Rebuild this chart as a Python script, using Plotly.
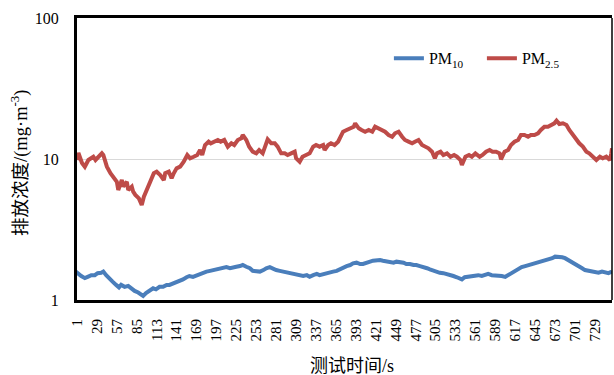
import plotly.graph_objects as go

# Emission concentration over the test, sampled values (mg·m-3)
t_pm10 = [1, 2, 7, 12, 16, 21, 26, 30, 35, 38, 42, 47, 51, 56, 60, 63, 68, 73, 77, 82,
          87, 91, 94, 98, 103, 108, 112, 117, 122, 127, 131, 136, 141, 145, 150, 155, 159, 164, 169, 173,
          178, 183, 188, 192, 197, 202, 206, 211, 216, 220, 225, 230, 234, 239, 244, 248, 253, 258, 263, 267,
          272, 277, 281, 286, 291, 296, 300, 305, 310, 314, 319, 324, 328, 333, 338, 342, 347, 352, 356, 361,
          366, 370, 375, 380, 385, 389, 394, 399, 403, 408, 413, 417, 422, 427, 431, 436, 441, 446, 450, 455,
          460, 464, 469, 474, 478, 483, 488, 493, 497, 502, 507, 511, 516, 521, 525, 530, 535, 539, 542, 546,
          551, 556, 561, 565, 570, 575, 579, 584, 589, 593, 598, 603, 607, 612, 617, 622, 626, 631, 636, 640,
          645, 650, 654, 659, 664, 669, 673, 678, 683, 687, 692, 697, 701, 706, 711, 715, 720, 725, 730, 734,
          739, 744, 748, 753]
pm10 = [1.50, 1.55, 1.48, 1.43, 1.46, 1.50, 1.50, 1.55, 1.56, 1.59, 1.50, 1.43, 1.35, 1.28, 1.23, 1.28, 1.24, 1.26, 1.21, 1.16,
        1.13, 1.09, 1.07, 1.12, 1.16, 1.21, 1.19, 1.24, 1.24, 1.28, 1.28, 1.31, 1.33, 1.37, 1.40, 1.45, 1.48, 1.46, 1.50, 1.53,
        1.56, 1.59, 1.61, 1.63, 1.65, 1.68, 1.68, 1.71, 1.68, 1.71, 1.72, 1.74, 1.77, 1.72, 1.68, 1.61, 1.59, 1.59, 1.63, 1.68,
        1.71, 1.65, 1.63, 1.61, 1.59, 1.56, 1.55, 1.53, 1.50, 1.48, 1.48, 1.50, 1.46, 1.50, 1.53, 1.50, 1.53, 1.55, 1.56, 1.59,
        1.61, 1.65, 1.71, 1.74, 1.77, 1.82, 1.84, 1.80, 1.80, 1.82, 1.87, 1.90, 1.92, 1.92, 1.90, 1.87, 1.87, 1.84, 1.87, 1.87,
        1.84, 1.80, 1.80, 1.77, 1.77, 1.74, 1.72, 1.68, 1.65, 1.61, 1.59, 1.56, 1.55, 1.53, 1.50, 1.48, 1.45, 1.43, 1.40, 1.45,
        1.46, 1.48, 1.50, 1.50, 1.48, 1.50, 1.53, 1.50, 1.50, 1.48, 1.48, 1.46, 1.50, 1.56, 1.61, 1.65, 1.71, 1.74, 1.77, 1.80,
        1.80, 1.84, 1.87, 1.90, 1.92, 1.98, 2.03, 2.03, 2.01, 1.98, 1.92, 1.84, 1.80, 1.74, 1.68, 1.63, 1.61, 1.59, 1.59, 1.56,
        1.59, 1.56, 1.55, 1.59]

t_pm25 = [1, 3, 8, 12, 17, 22, 24, 27, 31, 36, 38, 43, 48, 52, 57, 59, 64, 66, 71, 73,
          78, 80, 83, 88, 92, 95, 99, 104, 109, 113, 118, 123, 125, 130, 134, 137, 141, 146, 151, 156,
          160, 165, 170, 174, 177, 181, 186, 189, 194, 199, 203, 208, 213, 218, 222, 227, 232, 234, 239, 243,
          248, 253, 257, 262, 267, 269, 274, 279, 283, 288, 293, 297, 302, 307, 309, 314, 318, 323, 328, 333,
          337, 342, 347, 349, 354, 358, 363, 368, 372, 375, 380, 385, 390, 392, 397, 401, 406, 411, 416, 420,
          425, 430, 434, 439, 444, 448, 453, 458, 462, 467, 472, 476, 481, 486, 491, 495, 500, 504, 507, 512,
          516, 521, 526, 531, 535, 540, 542, 547, 552, 556, 561, 567, 571, 576, 581, 585, 590, 595, 597, 602,
          607, 611, 616, 621, 625, 630, 635, 639, 644, 649, 653, 658, 663, 667, 672, 675, 679, 684, 689, 693,
          698, 703, 707, 712, 717, 721, 726, 731, 736, 740, 745, 750, 752, 753]
pm25 = [9.84, 11.03, 9.37, 8.82, 9.84, 10.33, 10.38, 9.84, 10.38, 10.97, 10.68, 8.82, 7.92, 7.49, 6.90, 6.03, 7.10, 6.36, 6.90, 6.03,
        6.36, 5.86, 5.56, 5.26, 4.72, 5.40, 6.03, 6.90, 7.92, 8.13, 7.70, 7.10, 7.92, 8.13, 7.30, 7.92, 8.59, 8.82, 9.57, 10.68,
        10.11, 10.38, 10.68, 11.58, 10.68, 12.57, 13.27, 12.92, 13.27, 13.64, 13.27, 13.64, 12.23, 12.92, 12.57, 13.64, 14.02, 14.80, 13.64, 12.23,
        11.27, 10.97, 11.58, 10.97, 12.92, 13.80, 12.92, 12.92, 12.23, 10.97, 10.97, 10.68, 10.97, 11.27, 10.11, 9.57, 10.38, 10.68, 10.97, 12.23,
        12.57, 12.23, 12.57, 11.58, 12.57, 12.92, 12.57, 13.27, 14.39, 15.62, 16.06, 16.51, 16.95, 17.91, 16.51, 16.06, 15.62, 16.06, 15.62, 16.95,
        16.51, 16.06, 15.62, 14.80, 14.39, 15.22, 15.62, 14.39, 13.64, 13.27, 12.92, 13.27, 13.64, 12.57, 12.23, 11.91, 11.27, 10.11, 10.97, 11.27,
        10.68, 10.97, 10.38, 10.68, 10.38, 9.84, 9.07, 10.38, 10.68, 10.38, 10.97, 10.38, 10.68, 11.27, 11.58, 11.27, 11.27, 10.97, 9.95, 11.27,
        11.58, 12.57, 13.27, 13.64, 14.80, 14.80, 14.39, 14.80, 14.80, 15.22, 16.06, 16.95, 16.95, 17.42, 17.91, 18.69, 17.71, 17.91, 17.42, 16.06,
        14.80, 13.64, 12.92, 12.23, 11.27, 10.97, 10.38, 9.84, 10.38, 10.11, 10.38, 9.84, 10.97, 11.91]

x_ticks = list(range(1, 730, 28))
y_ticks = [1, 10, 100]

SERIF = "Times New Roman, Liberation Serif, Noto Sans CJK SC, serif"

fig = go.Figure()
fig.add_trace(go.Scatter(x=t_pm10, y=pm10, mode="lines", name="PM<sub>10</sub>",
                         line=dict(color="#4A7EBB", width=4)))
fig.add_trace(go.Scatter(x=t_pm25, y=pm25, mode="lines", name="PM<sub>2.5</sub>",
                         line=dict(color="#BE4B48", width=4)))

fig.update_layout(
    width=614, height=375,
    margin=dict(l=77, r=2, t=18, b=75),
    paper_bgcolor="white", plot_bgcolor="white",
    font=dict(family=SERIF, size=15, color="black"),
    showlegend=True,
    legend=dict(orientation="h", x=0.583, y=0.857, xanchor="left", yanchor="middle",
                bgcolor="rgba(0,0,0,0)", font=dict(size=16), itemwidth=30,
                entrywidth=48, entrywidthmode="pixels", tracegroupgap=0),
)
fig.update_xaxes(
    range=[1, 753], tickvals=x_ticks, ticktext=[str(v) for v in x_ticks],
    tickangle=-90, showgrid=False, zeroline=False,
    showline=True, linecolor="black", linewidth=3, mirror=True,
    ticks="", ticklabelstandoff=10, tickfont=dict(size=15),
)
fig.update_yaxes(
    type="log", range=[0, 2], tickvals=y_ticks, ticktext=[str(v) for v in y_ticks],
    showgrid=True, gridcolor="#D9D9D9", gridwidth=1, zeroline=False,
    showline=True, linecolor="black", linewidth=3, mirror=False,
    ticks="", ticklabelstandoff=12, tickfont=dict(size=16),
)
# thin right-hand frame edge
fig.add_shape(type="line", xref="paper", yref="paper", x0=1, x1=1, y0=0, y1=1,
              line=dict(color="black", width=1.5))

fig.add_annotation(text="排放浓度/(mg·m<sup>-3</sup>)", xref="paper", yref="paper",
                   x=-57 / 535, y=0.486, xanchor="center", yanchor="middle",
                   textangle=-90, showarrow=False, font=dict(size=18.5))
fig.add_annotation(text="测试时间/s", xref="paper", yref="paper",
                   x=(352 - 77) / 535, y=-(366 - 300) / 282, xanchor="center", yanchor="middle",
                   showarrow=False, font=dict(size=18))

fig.write_html("out.html")
